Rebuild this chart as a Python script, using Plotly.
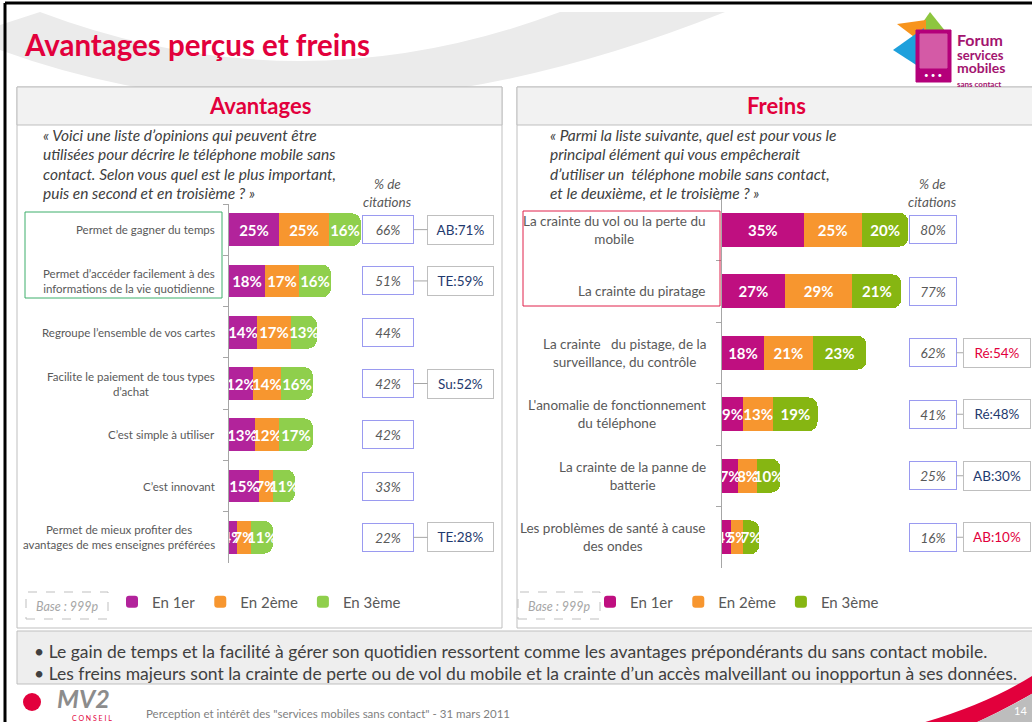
import plotly.graph_objects as go

W, H = 1032, 722
def X(p): return p / W
def Y(p): return 1 - p / H

# ---------------- data ----------------
series = ["En 1er", "En 2ème", "En 3ème"]

adv_labels = [
    "Permet de gagner du temps",
    "Permet d’accéder facilement à des<br>informations de la vie quotidienne",
    "Regroupe l’ensemble de vos cartes",
    "Facilite le paiement de tous types<br>d’achat",
    "C’est simple à utiliser",
    "C’est innovant",
    "Permet de mieux profiter des<br>avantages de mes enseignes préférées",
]
adv_1er = [25, 18, 14, 12, 13, 15, 4]
adv_2eme = [25, 17, 17, 14, 12, 7, 7]
adv_3eme = [16, 16, 13, 16, 17, 11, 11]
adv_citations = [66, 51, 44, 42, 42, 33, 22]
adv_targets = ["AB:71%", "TE:59%", None, "Su:52%", None, None, "TE:28%"]
adv_target_hi = [False, False, False, False, False, False, False]

frein_labels = [
    "La crainte du vol ou la perte du<br>mobile",
    "La crainte du piratage",
    "La crainte   du pistage, de la<br>surveillance, du contrôle",
    "L'anomalie de fonctionnement<br>du téléphone",
    "La crainte de la panne de<br>batterie",
    "Les problèmes de santé à cause<br>des ondes",
]
frein_1er = [35, 27, 18, 9, 7, 4]
frein_2eme = [25, 29, 21, 13, 8, 5]
frein_3eme = [20, 21, 23, 19, 10, 7]
frein_citations = [80, 77, 62, 41, 25, 16]
frein_targets = [None, None, "Ré:54%", "Ré:48%", "AB:30%", "AB:10%"]
frein_target_hi = [False, False, True, False, False, True]

adv_q = ["« Voici une liste d’opinions qui peuvent être",
         "utilisées pour décrire le téléphone mobile sans",
         "contact. Selon vous quel est le plus important,",
         "puis en second et en troisième ? »"]
frein_q = ["« Parmi la liste suivante, quel est pour vous le",
           "principal élément qui vous empêcherait",
           "d’utiliser un  téléphone mobile sans contact,",
           "et le deuxième, et le troisième ? »"]

bullets = ["• Le gain de temps et la facilité à gérer son quotidien ressortent comme les avantages prépondérants du sans contact mobile.",
           "• Les freins majeurs sont la crainte de perte ou de vol du mobile et la crainte d’un accès malveillant ou inopportun à ses données."]

# ---------------- style ----------------
CRIMSON = "#E2003C"
GREY_TXT = "#595959"
NAVY = "#1F3A6E"
FONT = "Lato"
adv_colors = ["#B2239B", "#F7962F", "#8FCF4C"]
frein_colors = ["#BF0F80", "#F7962F", "#86B612"]

fig = go.Figure()

for name, vals, col in zip(series, [adv_1er, adv_2eme, adv_3eme], adv_colors):
    fig.add_trace(go.Bar(
        y=adv_labels, x=vals, orientation="h", name=name,
        marker=dict(color=col, line=dict(width=0)), width=0.64,
        texttemplate="%{x}%", textposition="inside", insidetextanchor="middle", textangle=0,
        textfont=dict(family=FONT, size=15, color="white", weight="bold"),
        xaxis="x", yaxis="y", legend="legend", hoverinfo="skip"))

for name, vals, col in zip(series, [frein_1er, frein_2eme, frein_3eme], frein_colors):
    fig.add_trace(go.Bar(
        y=frein_labels, x=vals, orientation="h", name=name,
        marker=dict(color=col, line=dict(width=0)), width=0.55,
        texttemplate="%{x}%", textposition="inside", insidetextanchor="middle", textangle=0,
        textfont=dict(family=FONT, size=15, color="white", weight="bold"),
        xaxis="x2", yaxis="y2", legend="legend2", hoverinfo="skip"))

shapes = []
ann = []

def rect(x0, y0, x1, y1, fill=None, line="#BFBFBF", lw=1, dash="solid", layer="below"):
    shapes.append(dict(type="rect", xref="paper", yref="paper",
                       x0=X(x0), x1=X(x1), y0=Y(y1), y1=Y(y0),
                       fillcolor=fill if fill else "rgba(0,0,0,0)",
                       line=dict(color=line, width=lw, dash=dash), layer=layer))

def path(pts, fill, layer="below"):
    s = "M " + " L ".join(f"{X(a):.5f},{Y(b):.5f}" for a, b in pts) + " Z"
    shapes.append(dict(type="path", xref="paper", yref="paper", path=s,
                       fillcolor=fill, line=dict(width=0), layer=layer))

def qpath(cmds, fill, layer="below"):
    out = []
    for c in cmds:
        out.append(c[0] + " " + " ".join(f"{X(a):.5f},{Y(b):.5f}" for a, b in c[1:]))
    s = " ".join(out) + " Z"
    shapes.append(dict(type="path", xref="paper", yref="paper", path=s,
                       fillcolor=fill, line=dict(width=0), layer=layer))

def text(x, y, t, size=12, color=GREY_TXT, xanchor="center", bold=False, italic=False, align="center"):
    ann.append(dict(xref="paper", yref="paper", x=X(x), y=Y(y), text=t, showarrow=False,
                    xanchor=xanchor, yanchor="middle", align=align, borderpad=0,
                    font=dict(family=FONT, size=size, color=color,
                              weight="bold" if bold else "normal",
                              style="italic" if italic else "normal")))

# background swoosh
qpath([("M", (40, 12)), ("Q", (300, 110), (560, 12)), ("L", (725, 12)), ("Q", (330, 170), (0, 50)), ("L", (0, 25))], "#EBEBEB")

# slide border
shapes.append(dict(type="line", xref="paper", yref="paper", x0=X(5), x1=X(1040), y0=Y(3), y1=Y(3), line=dict(color="black", width=3)))
shapes.append(dict(type="line", xref="paper", yref="paper", x0=X(5), x1=X(5), y0=Y(3), y1=Y(730), line=dict(color="black", width=3)))

# panels
rect(17, 87, 502, 628, fill="white")
rect(17, 87, 502, 125, fill="#F2F2F2")
rect(517, 87, 1045, 628, fill="white")
rect(517, 87, 1045, 125, fill="#F2F2F2")
# bottom box
rect(17, 631, 1045, 684, fill="#EEEEEE")

# title + headers
text(23, 45, "Avantages perçus et freins", size=29.5, color=CRIMSON, xanchor="left", bold=True)
text(260, 105, "Avantages", size=22, color=CRIMSON, bold=True)
text(776, 105, "Freins", size=22, color=CRIMSON, bold=True)

# questions
for i, line in enumerate(adv_q):
    text(42, 135 + 19.3 * i, line, size=15.5, color="#404040", xanchor="left", italic=True)
for i, line in enumerate(frein_q):
    text(549, 135 + 19.3 * i, line, size=15.5, color="#404040", xanchor="left", italic=True)

# % de citations
for cx in (387, 932):
    text(cx, 184, "% de", size=13.5, italic=True)
    text(cx, 202, "citations", size=13.5, italic=True)

# highlight boxes
rect(25, 212, 222, 298, line="#3DAE6A", lw=1, layer="above")
rect(523, 211, 720, 306, line="#E0204A", lw=1, layer="above")

# category labels, citation boxes, comparison boxes
def side(labels, citations, targets, hi, yref, lab_x, lab_size, cit_x, cit_w, tgt_ax, tgt_w, cit_h, tgt_h):
    for lab, c, t, h in zip(labels, citations, targets, hi):
        ann.append(dict(xref="paper", yref=yref, x=X(lab_x), y=lab, text=lab, showarrow=False,
                        xanchor="right", yanchor="middle", align="center",
                        font=dict(family=FONT, size=lab_size, color=GREY_TXT)))
        ann.append(dict(xref="paper", yref=yref, x=X(cit_x), y=lab, text=f"{c}%", showarrow=False,
                        xanchor="center", yanchor="middle", width=cit_w, height=cit_h,
                        bordercolor="#9A9AF0", borderwidth=1, borderpad=0, bgcolor="white",
                        font=dict(family=FONT, size=13.5, color=GREY_TXT, style="italic")))
        if t:
            ann.append(dict(xref="paper", yref=yref, x=X(cit_x + cit_w / 2 + 1), y=lab, text=t,
                            showarrow=True, arrowhead=0, arrowwidth=1, arrowcolor="#A6A6A6",
                            ax=tgt_ax, ay=0, standoff=0, startstandoff=0,
                            width=tgt_w, height=tgt_h, bordercolor="#BFBFBF", borderwidth=1,
                            borderpad=0, bgcolor="white",
                            font=dict(family=FONT, size=13.5, color=CRIMSON if h else NAVY)))

side(adv_labels, adv_citations, adv_targets, adv_target_hi, "y", 217, 11.5, 387.5, 50, 47, 65, 27, 28)
side(frein_labels, frein_citations, frein_targets, frein_target_hi, "y2", 708, 13.5, 932.5, 46, 40, 66, 27, 28)

# base boxes
rect(26, 592, 108, 619, line="#BFBFBF", dash="dash", layer="above")
text(67, 606, "Base : 999p", size=12.5, color="#A6A6A6", italic=True)
rect(518, 592, 600, 619, line="#BFBFBF", dash="dash", layer="above")
text(559, 606, "Base : 999p", size=12.5, color="#A6A6A6", italic=True)

# bottom bullets
text(33, 651, bullets[0], size=17.5, color="#404040", xanchor="left", align="left")
text(33, 673, bullets[1], size=17.5, color="#404040", xanchor="left", align="left")

# Forum logo
path([(930, 12), (946, 32), (916, 32)], "#8DC63F", layer="above")
path([(897, 24), (926, 20), (926, 46)], "#F7941D", layer="above")
path([(893, 50), (924, 28), (924, 70)], "#1EA0DC", layer="above")
rect(916, 30, 951, 82, fill="#B4007A", line="#B4007A", layer="above")
rect(920, 34, 947, 68, fill="#D45AA6", line="#D45AA6", layer="above")
text(933, 75, "• • •", size=8, color="white")
ann.append(dict(xref="paper", yref="paper", x=X(956), y=Y(60), xanchor="left", yanchor="middle",
                align="left", showarrow=False, borderpad=0,
                text="<span style='font-size:16px'>Forum</span><br><span style='font-size:13px'>services</span><br><span style='font-size:14px'>mobiles</span><br><span style='font-size:8px'>sans contact</span>",
                font=dict(family=FONT, size=10.5, color="#A3146F", weight="bold")))

# MV2 logo + footer
shapes.append(dict(type="circle", xref="paper", yref="paper", x0=X(23), x1=X(41), y0=Y(711), y1=Y(693),
                   fillcolor="#E2003C", line=dict(width=0)))
text(83, 698, "<i>MV2</i>", size=25, color="#8C8C8C", bold=True)
text(92, 718, "C O N S E I L", size=7, color=CRIMSON)
text(145, 713, "Perception et intérêt des \"services mobiles sans contact\" - 31 mars 2011", size=11.5, color="#7F7F7F", xanchor="left")

# bottom right swoosh + page number
qpath([("M", (922, 723)), ("Q", (990, 703), (1035, 674)), ("L", (1035, 692)), ("Q", (1000, 712), (975, 723))], "#E2003C", layer="above")
qpath([("M", (975, 723)), ("Q", (1005, 710), (1035, 692)), ("L", (1035, 723))], "#BDBDBD", layer="above")
text(1020, 710, "14", size=11, color="white")

axis_common = dict(showticklabels=False, showline=True, linecolor="#A6A6A6", linewidth=1,
                   ticks="outside", tickson="boundaries", ticklen=5, tickcolor="#A6A6A6",
                   showgrid=False, zeroline=False, autorange="reversed", type="category")

fig.update_layout(
    width=W, height=H, autosize=False,
    margin=dict(l=0, r=0, t=0, b=0),
    paper_bgcolor="white", plot_bgcolor="rgba(0,0,0,0)",
    barmode="stack", barcornerradius=9,
    uniformtext=dict(minsize=15, mode="show"),
    xaxis=dict(domain=[X(229), X(429)], range=[0, 100], visible=False, anchor="y"),
    yaxis=dict(domain=[Y(563), Y(204)], anchor="x", **axis_common),
    xaxis2=dict(domain=[X(722), X(955)], range=[0, 100], visible=False, anchor="y2"),
    yaxis2=dict(domain=[Y(568), Y(199)], anchor="x2", **axis_common),
    legend=dict(orientation="h", x=X(112), y=Y(602), xanchor="left", yanchor="middle",
                font=dict(family=FONT, size=15, color=GREY_TXT), bgcolor="rgba(0,0,0,0)",
                itemwidth=30, traceorder="normal"),
    legend2=dict(orientation="h", x=X(590), y=Y(602), xanchor="left", yanchor="middle",
                 font=dict(family=FONT, size=15, color=GREY_TXT), bgcolor="rgba(0,0,0,0)",
                 itemwidth=30, traceorder="normal"),
    shapes=shapes, annotations=ann,
    font=dict(family=FONT),
)

fig.write_html("out.html", config=dict(displayModeBar=False),
               post_script="document.body.style.margin='0';document.body.style.overflow='hidden';")
